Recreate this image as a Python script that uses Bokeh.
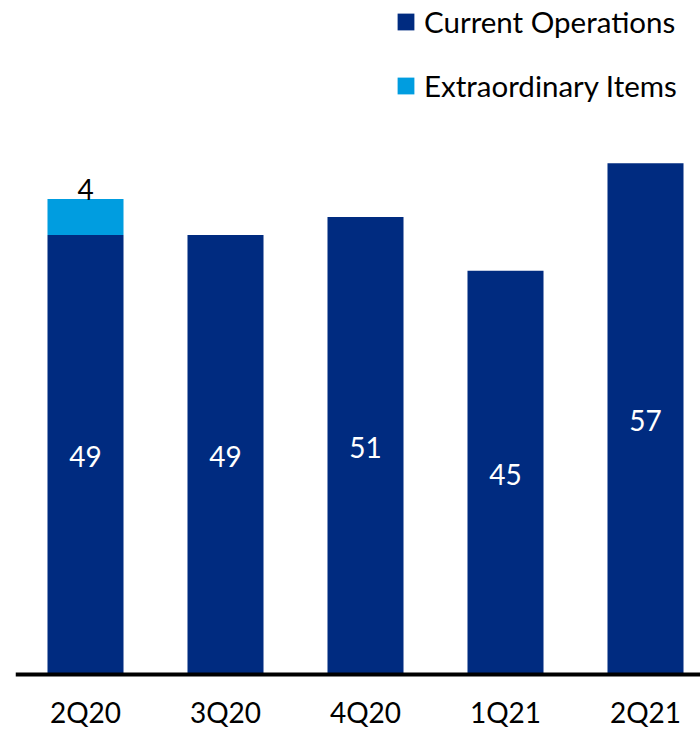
from bokeh.plotting import figure
from bokeh.models import ColumnDataSource, Range1d, Legend, LegendItem, LabelSet, Span
from bokeh.core.properties import value
from bokeh.embed import file_html
from bokeh.resources import INLINE

quarters = ["2Q20", "3Q20", "4Q20", "1Q21", "2Q21"]
current_ops = [49, 49, 51, 45, 57]
extraordinary = [4, 0, 0, 0, 0]

DARK = "#002B80"
LIGHT = "#009DE0"
FONT = "Lato"

PX_PER_UNIT = 8.97
xs = list(range(len(quarters)))
source = ColumnDataSource(dict(
    x=xs, current=current_ops, extra=extraordinary,
    cur_mid=[c / 2 for c in current_ops],
    cur_lbl=[str(c) for c in current_ops],
    zero=[0] * len(xs), qlbl=quarters))

ex_idx = [i for i, e in enumerate(extraordinary) if e > 0]
ex_source = ColumnDataSource(dict(
    x=[xs[i] for i in ex_idx],
    top=[current_ops[i] + extraordinary[i] for i in ex_idx],
    lbl=[str(extraordinary[i]) for i in ex_idx]))

p = figure(width=700, height=729, output_backend="svg", toolbar_location=None,
           x_range=Range1d(-0.5, -0.5 + 685 / 140),
           y_range=Range1d(-55 / PX_PER_UNIT, 674 / PX_PER_UNIT),
           min_border_left=15, min_border_right=0, min_border_top=0, min_border_bottom=0,
           x_axis_location=None, y_axis_location=None)
p.outline_line_color = None
p.xgrid.visible = False
p.ygrid.visible = False

rs = p.vbar_stack(["current", "extra"], x="x", width=0.543, color=[DARK, LIGHT],
                  line_color=None, source=source)

# baseline (category axis line)
p.add_layout(Span(location=0, dimension="width", line_color="black", line_width=4))

# value labels inside the dark bars
p.add_layout(LabelSet(x="x", y="cur_mid", text="cur_lbl", source=source,
                      text_color="white", text_font=value(FONT), text_font_size="28px",
                      text_align="center", text_baseline="alphabetic", y_offset=-12))
# label above the extraordinary segment
p.add_layout(LabelSet(x="x", y="top", text="lbl", source=ex_source,
                      text_color="black", text_font=value(FONT), text_font_size="28px",
                      text_align="center", text_baseline="alphabetic", y_offset=-1))
# category labels under the baseline
p.add_layout(LabelSet(x="x", y="zero", text="qlbl", source=source,
                      text_color="black", text_font=value(FONT), text_font_size="28px",
                      text_align="center", text_baseline="alphabetic", y_offset=-48))

legend = Legend(items=[LegendItem(label="Current Operations", renderers=[rs[0]]),
                       LegendItem(label="Extraordinary Items", renderers=[rs[1]])],
                location=(380, 626), orientation="vertical",
                glyph_width=21, glyph_height=21, label_height=36, label_standoff=8,
                spacing=28, padding=0, margin=0,
                label_text_font=FONT, label_text_font_size="29.5px", label_text_color="black",
                border_line_color=None, background_fill_alpha=0)
p.add_layout(legend)

open("out.html", "w").write(file_html(p, INLINE))
